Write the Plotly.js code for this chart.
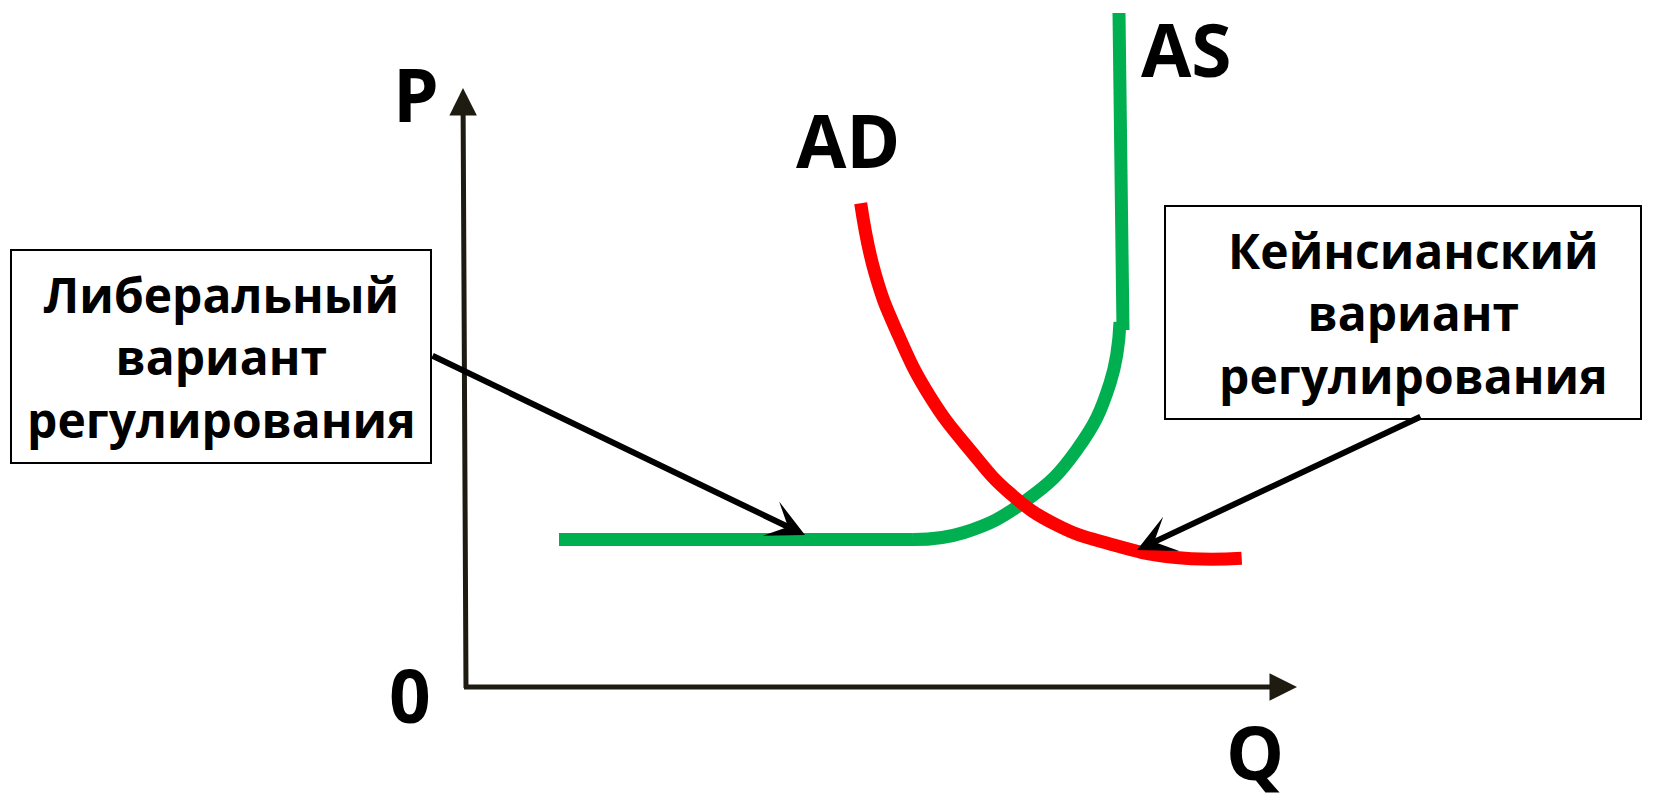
<!DOCTYPE html>
<html>
<head>
<meta charset="utf-8">
<script src="https://cdn.plot.ly/plotly-3.0.1.min.js"></script>
<style>
  html, body { margin: 0; padding: 0; background: #ffffff; }
  #chart { width: 1658px; height: 794px; }
</style>
</head>
<body>
<div id="chart"></div>
<script>
// ---- data (Q, P in chart units, origin at the axes corner) ----
// AS: horizontal (Keynesian) segment
const asFlatQ = [9.4, 44.7];
const asFlatP = [14.75, 14.75];
// AS: intermediate curved segment
const asCurveQ = [44.7, 49.83, 56.17, 61.17, 64.5, 65.5];
const asCurveP = [14.75, 15.43, 18.7, 23.7, 30.37, 36.5];
// AS: vertical (classical) segment
const asVertQ = [65.8, 65.4];
const asVertP = [35.7, 67.4];
// AD curve
const adQ = [39.57, 41.0, 43.2, 46.5, 50.5, 54.5, 59.17, 64.5, 70.83, 77.67];
const adP = [48.37, 41.37, 35.5, 29.05, 23.7, 19.37, 16.2, 14.3, 12.97, 12.87];
// axis ends
const qAxisEnd = 83.2;
const pAxisEnd = 59.9;
// texts
const labelP = 'P', labelQ = 'Q', labelZero = '0', labelAD = 'AD', labelAS = 'AS';
const boxLeftLines = ['Либеральный', 'вариант', 'регулирования'];
const boxRightLines = ['Кейнсианский', 'вариант', 'регулирования'];

const GREEN = '#00B050', RED = '#FF0000', AXIS = '#1E1B11';
const FONT = '"Open Sans", "Noto Sans", sans-serif';

const traces = [
  {x: asFlatQ, y: asFlatP, mode: 'lines', line: {color: GREEN, width: 13}},
  {x: asCurveQ, y: asCurveP, mode: 'lines', line: {color: GREEN, width: 13, shape: 'spline', smoothing: 1.3}},
  {x: asVertQ, y: asVertP, mode: 'lines', line: {color: GREEN, width: 13}},
  {x: adQ, y: adP, mode: 'lines', line: {color: RED, width: 13, shape: 'spline', smoothing: 1.3}}
];

function arrow(x, y, ax, ay, color, width, size, head) {
  return {x: x, y: y, ax: ax, ay: ay, xref: 'x', yref: 'y', axref: 'x', ayref: 'y',
    text: '', showarrow: true, arrowhead: head, arrowsize: size, arrowwidth: width,
    arrowcolor: color, standoff: 0, startstandoff: 0};
}
function label(txt, x, y) {
  return {x: x, y: y, xref: 'x', yref: 'y', text: '<b>' + txt + '</b>', showarrow: false,
    xanchor: 'center', yanchor: 'middle', font: {family: FONT, size: 73, color: '#000'}};
}
function boxText(lines, x, y) {
  return {x: x, y: y, xref: 'x', yref: 'y', text: lines.map(s => '<b>' + s + '</b>').join('<br>'),
    showarrow: false, xanchor: 'center', yanchor: 'middle', align: 'center',
    font: {family: FONT, size: 48, color: '#000'}};
}
function boxFrame(x0, x1, y0, y1) {
  return {type: 'rect', xref: 'x', yref: 'y', x0: x0, x1: x1, y0: y0, y1: y1,
    line: {color: '#000', width: 2}, fillcolor: 'rgba(0,0,0,0)', layer: 'above'};
}

const annotations = [
  arrow(-0.2, pAxisEnd, 0.1, -0.25, AXIS, 5, 1.1, 2),
  arrow(qAxisEnd, 0, -0.25, 0, AXIS, 5, 1.1, 2),
  arrow(34.0, 15.2, -3.4, 33.2, '#000', 6, 1.05, 3),
  arrow(67.2, 13.7, 95.7, 27.1, '#000', 6, 1.05, 3),
  label(labelP, -4.95, 59.4),
  label(labelAD, 38.25, 54.8),
  label(labelAS, 72.15, 63.85),
  label(labelZero, -5.5, -0.7),
  label(labelQ, 78.95, -6.4),
  boxText(boxLeftLines, -24.4, 33.05),
  boxText(boxRightLines, 94.8, 37.45)
];

const shapes = [
  boxFrame(-45.4, -3.4, 22.4, 43.7),
  boxFrame(70.0, 117.6, 26.8, 48.1)
];

const layout = {
  width: 1658, height: 794,
  margin: {l: 0, r: 0, t: 0, b: 0, pad: 0},
  paper_bgcolor: '#ffffff', plot_bgcolor: '#ffffff',
  showlegend: false, hovermode: false,
  xaxis: {range: [-46.5, 119.3], visible: false, showgrid: false, zeroline: false, fixedrange: true},
  yaxis: {range: [-10.7, 68.7], visible: false, showgrid: false, zeroline: false, fixedrange: true},
  annotations: annotations,
  shapes: shapes
};

Plotly.newPlot('chart', traces, layout, {displayModeBar: false, staticPlot: true});
</script>
</body>
</html>
